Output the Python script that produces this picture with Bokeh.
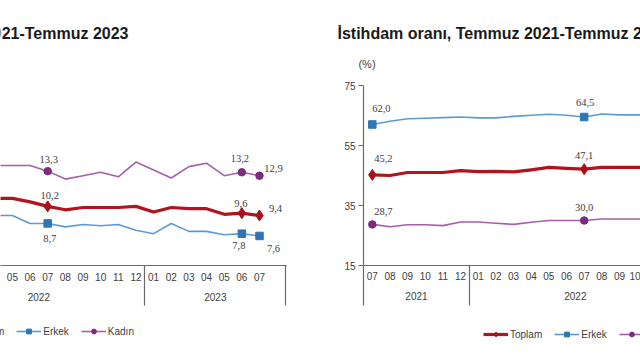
from bokeh.plotting import figure
from bokeh.models import (Range1d, LinearAxis, FixedTicker, Label, Legend,
                          LegendItem, ColumnDataSource)
from bokeh.layouts import row, column
from bokeh.embed import file_html
from bokeh.resources import INLINE

# ---------------- data ----------------
months = ["07", "08", "09", "10", "11", "12",
          "01", "02", "03", "04", "05", "06", "07", "08", "09", "10", "11", "12",
          "01", "02", "03", "04", "05", "06", "07"]
years = ["2021", "2022", "2023"]
year_first_month = [0, 6, 18]
n_slots = 26  # 25 months + one empty slot at the end of the category axis

# Unemployment rate (İşsizlik oranı), %
issizlik_toplam = [12.0, 12.1, 11.5, 11.2, 11.2, 11.2, 11.3, 10.7, 11.3, 10.9,
                   10.9, 10.6, 10.2, 9.9, 10.1, 10.1, 10.1, 10.2,
                   9.7, 10.1, 10.0, 10.0, 9.5, 9.6, 9.4]
issizlik_erkek = [10.6, 10.6, 10.1, 9.8, 9.6, 9.7, 9.8, 9.3, 9.7, 9.4,
                  9.4, 8.7, 8.7, 8.4, 8.6, 8.5, 8.6, 8.1,
                  7.8, 8.7, 8.0, 8.0, 7.7, 7.8, 7.6]
issizlik_kadin = [15.0, 15.1, 14.3, 14.0, 14.2, 14.1, 14.3, 13.4, 14.3, 13.8,
                  13.8, 13.8, 13.3, 12.6, 12.9, 13.2, 12.8, 14.1,
                  13.4, 12.7, 13.7, 14.0, 12.9, 13.2, 12.9]
issizlik_label_idx = [12, 23, 24]

# Employment rate (İstihdam oranı), %
istihdam_toplam = [45.2, 45.0, 46.0, 46.0, 46.0, 46.6, 46.3, 46.4, 46.2, 46.9,
                   47.7, 47.4, 47.1, 47.7, 47.7, 47.7, 47.8, 47.9,
                   48.1, 48.2, 47.9, 48.0, 48.3, 48.5, 48.4]
istihdam_erkek = [62.0, 63.1, 63.9, 64.1, 64.3, 64.5, 64.2, 64.2, 64.7, 65.1,
                  65.4, 65.1, 64.5, 65.5, 65.2, 65.2, 65.3, 65.4,
                  65.5, 65.6, 65.3, 65.5, 65.8, 65.9, 65.7]
istihdam_kadin = [28.7, 27.9, 28.6, 28.6, 28.3, 29.5, 29.5, 29.1, 28.7, 29.4,
                  30.0, 30.0, 30.0, 30.5, 30.5, 30.5, 30.6, 30.8,
                  31.0, 31.0, 30.8, 30.9, 31.1, 31.3, 31.5]
istihdam_label_idx = [0, 12]
istihdam_yticks = [15, 35, 55, 75]

series_names = ["Toplam", "Erkek", "Kadın"]
title_left = "İşsizlik oranı, Temmuz 2021-Temmuz 2023"
title_right = "İstihdam oranı, Temmuz 2021-Temmuz 2023"
unit_text = "(%)"

# ---------------- styles ----------------
FONT = "Liberation Sans"
TXT = "#404040"
AXIS = "#6a6a6a"
LINE_COLORS = {"Toplam": "#B0141E", "Erkek": "#5B9BD5", "Kadın": "#A75EA8"}
MARK_COLORS = {"Toplam": "#A8101A", "Erkek": "#2E75B6", "Kadın": "#7E2A7E"}
LINE_WIDTHS = {"Toplam": 3.2, "Erkek": 1.6, "Kadın": 1.6}
MARKERS = {"Toplam": "diamond", "Erkek": "square", "Kadın": "circle"}
MARK_SIZES = {"Toplam": 11, "Erkek": 7.5, "Kadın": 7.5}
LEGEND_MARK_SIZE = 5
SEP_LEN = 40

left_offsets = {
    "Toplam": ([2, -1, 16], [-11, -10, -7]),
    "Erkek": ([2, -3, 14], [15, 12, 13]),
    "Kadın": ([1, -2, 14], [-12, -14, -7]),
}
right_offsets = {
    "Toplam": ([11, 0], [-16, -14]),
    "Erkek": ([9, 1], [-16, -15]),
    "Kadın": ([11, 0], [-13, -13]),
}


def fmt(v):
    return f"{v:.1f}".replace(".", ",")


def base_fig(w, h, xr, yr, left, right, top, bottom):
    return figure(width=w, height=h, x_range=xr, y_range=yr,
                  x_axis_type=None, y_axis_type=None, toolbar_location=None,
                  output_backend="svg", min_border_left=left,
                  min_border_right=right, min_border_top=top,
                  min_border_bottom=bottom, outline_line_color=None)


def add_x_axes(p, standoff_m, standoff_y):
    idx = list(range(len(months)))
    bounds = [s - 0.5 for s in year_first_month] + [n_slots - 0.5]
    centers = [(bounds[i] + bounds[i + 1]) / 2 for i in range(len(years))]
    ax1 = LinearAxis(
        ticker=FixedTicker(ticks=idx, minor_ticks=bounds),
        major_label_overrides={i: months[i] for i in idx},
        major_tick_line_color=None, major_tick_out=0, major_tick_in=0,
        minor_tick_line_color=AXIS, minor_tick_out=SEP_LEN, minor_tick_in=0,
        minor_tick_line_width=1.2,
        axis_line_color=AXIS, axis_line_width=1.2,
        major_label_text_font=FONT, major_label_text_font_size="10px",
        major_label_text_color=TXT, major_label_standoff=standoff_m - SEP_LEN)
    ax2 = LinearAxis(
        ticker=FixedTicker(ticks=centers, minor_ticks=[]),
        major_label_overrides={c: y for c, y in zip(centers, years)},
        major_tick_line_color=None, major_tick_out=0, major_tick_in=0,
        minor_tick_line_color=None, minor_tick_out=0,
        axis_line_color=None,
        major_label_text_font=FONT, major_label_text_font_size="10px",
        major_label_text_color=TXT, major_label_standoff=standoff_y)
    p.add_layout(ax1, "below")
    p.add_layout(ax2, "below")


def draw_series(p, data, label_idx, offsets):
    x = list(range(len(months)))
    for name in series_names:
        vals = data[name]
        p.line(x, vals, line_color=LINE_COLORS[name],
               line_width=LINE_WIDTHS[name], line_join="round")
        mx = [x[i] for i in label_idx]
        my = [vals[i] for i in label_idx]
        p.scatter(mx, my, marker=MARKERS[name], size=MARK_SIZES[name],
                  fill_color=MARK_COLORS[name], line_color=MARK_COLORS[name])
        dx, dy = offsets[name]
        src = ColumnDataSource(dict(x=mx, y=my, t=[fmt(v) for v in my], dx=dx, dy=dy))
        p.text(x="x", y="y", text="t", x_offset="dx", y_offset="dy", source=src,
               text_align="center", text_baseline="middle",
               text_font=FONT, text_font_size="10.5px", text_color=TXT)


# ---------------- top strip: titles ----------------
pt = base_fig(640, 75, Range1d(0, 640), Range1d(75, 0), 0, 0, 0, 0)
pt.add_layout(Label(x=128, y=33, text=title_left, text_align="right",
                    text_baseline="alphabetic", text_font=FONT, text_font_size="16px",
                    text_font_style="bold", text_color="#1a1a1a"))
pt.add_layout(Label(x=337, y=33, text=title_right, text_align="left",
                    text_baseline="alphabetic", text_font=FONT, text_font_size="16px",
                    text_font_style="bold", text_color="#1a1a1a"))
pt.add_layout(Label(x=366.5, y=63, text=unit_text, text_align="center",
                    text_baseline="middle", text_font=FONT, text_font_size="11px",
                    text_color=TXT))

# ---------------- left chart: İşsizlik oranı (cropped on the left) ----------------
p1 = base_fig(320, 243, Range1d(9.326, 25.53), Range1d(5, 20.833), 0, 34, 0, 53)
add_x_axes(p1, 7, 9)
data_left = {"Toplam": issizlik_toplam, "Erkek": issizlik_erkek, "Kadın": issizlik_kadin}
draw_series(p1, data_left, issizlik_label_idx, left_offsets)

# ---------------- right chart: İstihdam oranı (cropped on the right) ----------------
p2 = base_fig(320, 243, Range1d(-0.5, 15.19), Range1d(15, 75), 43, 0, 10, 50)
yax = LinearAxis(ticker=FixedTicker(ticks=istihdam_yticks, minor_ticks=[]),
                 major_tick_out=5, major_tick_in=0, major_tick_line_color=AXIS,
                 major_tick_line_width=1.2, minor_tick_line_color=None,
                 axis_line_color=AXIS, axis_line_width=1.2,
                 major_label_text_font=FONT, major_label_text_font_size="10px",
                 major_label_text_color=TXT, major_label_standoff=3)
p2.add_layout(yax, "left")
add_x_axes(p2, 6, 9)
data_right = {"Toplam": istihdam_toplam, "Erkek": istihdam_erkek, "Kadın": istihdam_kadin}
draw_series(p2, data_right, istihdam_label_idx, right_offsets)

# ---------------- bottom strip: legends ----------------
# hidden proxy renderers (same series, same styles) that only feed the legend glyphs
pb = base_fig(640, 42, Range1d(0, 640), Range1d(42, 0), 0, 0, 0, 0)
legend_glyphs = {}
xs = list(range(len(months)))
for name in series_names:
    lr = pb.line(xs, data_right[name], line_color=LINE_COLORS[name],
                 line_width=LINE_WIDTHS[name], visible=False)
    sr = pb.scatter(xs, data_right[name], marker=MARKERS[name], size=LEGEND_MARK_SIZE,
                    fill_color=MARK_COLORS[name], line_color=MARK_COLORS[name],
                    visible=False)
    legend_glyphs[name] = [lr, sr]


def add_legend(p, loc):
    items = [LegendItem(label=n, renderers=legend_glyphs[n]) for n in series_names]
    leg = Legend(items=items, location=loc, orientation="horizontal",
                 padding=0, margin=0, spacing=12, glyph_width=25,
                 glyph_height=12, label_height=12, label_standoff=2,
                 label_text_font=FONT, label_text_font_size="10px",
                 label_text_color=TXT, border_line_color=None,
                 background_fill_alpha=0, inactive_fill_alpha=0,
                 click_policy="none")
    p.add_layout(leg)


add_legend(pb, (-55, 23))
add_legend(pb, (483, 20))

layout = column(pt, row(p1, p2), pb)
open("out.html", "w").write(file_html(layout, INLINE))
